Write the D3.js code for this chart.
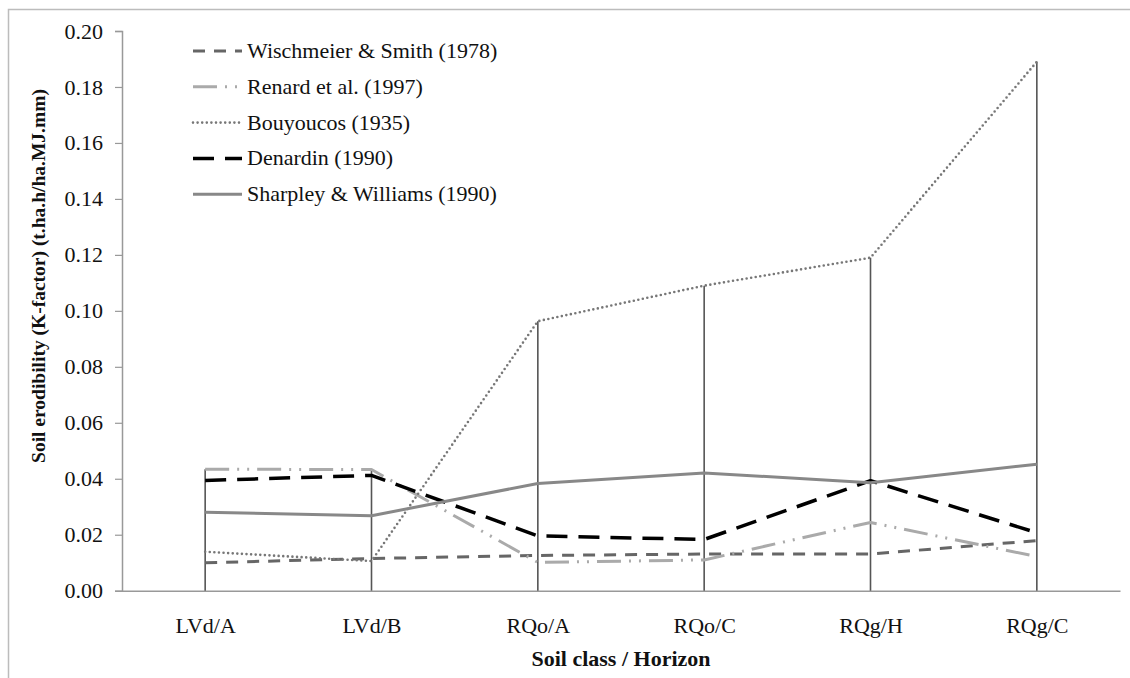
<!DOCTYPE html>
<html>
<head>
<meta charset="utf-8">
<script src="https://cdn.jsdelivr.net/npm/d3@7"></script>
<style>
  body { margin: 0; background: #fff; }
  text { font-family: "Liberation Serif", "Times New Roman", serif; fill: #111; }
</style>
</head>
<body>
<div id="chart-area"></div>
<script>
// categories and values
const categories = ['LVd/A', 'LVd/B', 'RQo/A', 'RQo/C', 'RQg/H', 'RQg/C'];
const wischmeier = [0.0100, 0.0115, 0.0126, 0.0131, 0.0131, 0.0179];
const renard = [0.0434, 0.0433, 0.0101, 0.0110, 0.0244, 0.0122];
const bouyoucos = [0.0139, 0.0106, 0.0963, 0.1090, 0.1190, 0.1890];
const denardin = [0.0394, 0.0412, 0.0196, 0.0183, 0.0393, 0.0207];
const sharpley = [0.0280, 0.0268, 0.0383, 0.0421, 0.0386, 0.0452];
const yTicks = [0, 0.02, 0.04, 0.06, 0.08, 0.10, 0.12, 0.14, 0.16, 0.18, 0.20];

const series = [
  { name: 'Wischmeier & Smith (1978)', values: wischmeier, color: '#666', width: 3, dash: '12,9', cap: 'butt' },
  { name: 'Renard et al. (1997)', values: renard, color: '#aaa', width: 3, dash: '24,8,2,8,2,8', cap: 'butt' },
  { name: 'Bouyoucos (1935)', values: bouyoucos, color: '#777', width: 2.6, dash: '0,4.6', cap: 'round' },
  { name: 'Denardin (1990)', values: denardin, color: '#000', width: 3.5, dash: '21,11', cap: 'butt' },
  { name: 'Sharpley & Williams (1990)', values: sharpley, color: '#888', width: 3, dash: null, cap: 'butt' }
];

const W = 1130, H = 678;
const margin = { top: 31, right: 10, bottom: 87, left: 122 };
const width = 998;
const height = 559.7;

const svg = d3.select('#chart-area')
  .append('svg')
    .attr('width', W)
    .attr('height', H);

// outer frame (cropped at right / bottom in the original)
svg.append('rect')
  .attr('x', 8.5).attr('y', 9.5)
  .attr('width', W + 20).attr('height', H + 20)
  .attr('fill', 'none')
  .attr('stroke', '#bcbcbc')
  .attr('stroke-width', 1.5);

const chart = svg.append('g')
  .attr('transform', 'translate(' + margin.left + ',' + margin.top + ')');

const x = d3.scalePoint()
  .domain(categories)
  .range([0, width])
  .padding(0.5);

const y = d3.scaleLinear()
  .domain([0, 0.2])
  .range([height, 0]);

// y axis
const yAxis = d3.axisLeft(y)
  .tickValues(yTicks)
  .tickFormat(d3.format('.2f'))
  .tickSize(7)
  .tickPadding(12);

const gy = chart.append('g').call(yAxis);
gy.select('.domain').attr('stroke', '#999').attr('stroke-width', 1.5);
gy.selectAll('line').attr('stroke', '#999').attr('stroke-width', 1.2);
gy.selectAll('text')
  .style('font-family', '"Liberation Serif", serif')
  .style('font-size', '22px')
  .attr('fill', '#111');

// x axis
const xAxis = d3.axisBottom(x).tickSize(0).tickPadding(27);
const gx = chart.append('g')
  .attr('transform', 'translate(0,' + height + ')')
  .call(xAxis);
gx.select('.domain').attr('stroke', '#999').attr('stroke-width', 1.5);
gx.selectAll('text')
  .style('font-family', '"Liberation Serif", serif')
  .style('font-size', '22px')
  .attr('fill', '#111');

// drop lines from highest value to axis
chart.append('g')
  .selectAll('line')
  .data(categories)
  .join('line')
    .attr('x1', d => x(d))
    .attr('x2', d => x(d))
    .attr('y1', y(0))
    .attr('y2', (d, i) => y(d3.max(series, s => s.values[i])))
    .attr('stroke', '#555')
    .attr('stroke-width', 1.6);

// series lines
const line = d3.line()
  .x((d, i) => x(categories[i]))
  .y(d => y(d));

chart.append('g')
  .selectAll('path')
  .data(series)
  .join('path')
    .attr('d', d => line(d.values))
    .attr('fill', 'none')
    .attr('stroke', d => d.color)
    .attr('stroke-width', d => d.width)
    .attr('stroke-dasharray', d => d.dash)
    .attr('stroke-linecap', d => d.cap)
    .attr('stroke-linejoin', 'round');

// legend
const legend = svg.append('g')
  .attr('transform', 'translate(193,51)');

const item = legend.selectAll('g')
  .data(series)
  .join('g')
    .attr('transform', (d, i) => 'translate(0,' + (i * 35.8) + ')');

item.append('line')
  .attr('x1', 0).attr('x2', 49)
  .attr('y1', 0).attr('y2', 0)
  .attr('stroke', d => d.color)
  .attr('stroke-width', d => d.width)
  .attr('stroke-dasharray', d => d.dash)
  .attr('stroke-linecap', d => d.cap);

item.append('text')
  .attr('x', 54)
  .attr('y', 7)
  .style('font-size', '22px')
  .text(d => d.name);

// axis titles
svg.append('text')
  .attr('transform', 'translate(45,276) rotate(-90)')
  .attr('text-anchor', 'middle')
  .style('font-size', '19.5px')
  .style('font-weight', 'bold')
  .text('Soil erodibility (K-factor) (t.ha.h/ha.MJ.mm)');

svg.append('text')
  .attr('x', margin.left + width / 2)
  .attr('y', 666)
  .attr('text-anchor', 'middle')
  .style('font-size', '22px')
  .style('font-weight', 'bold')
  .text('Soil class / Horizon');
</script>
</body>
</html>
